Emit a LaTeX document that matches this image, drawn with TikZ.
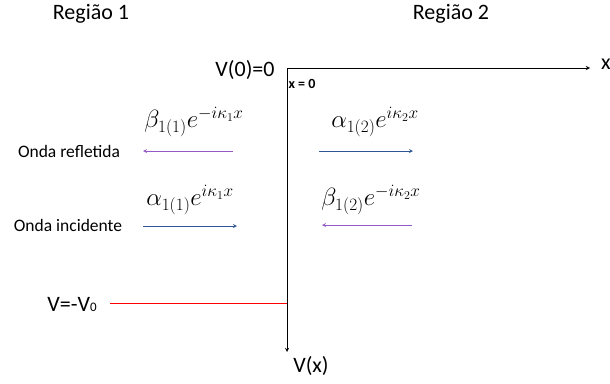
\documentclass[tikz,border=0pt]{standalone}
\usepackage{fontspec}
\setmainfont{Carlito}
\usetikzlibrary{positioning}
\definecolor{incid}{RGB}{47,85,151}
\definecolor{refl}{RGB}{150,90,200}
\tikzset{
  lbl/.style={inner sep=0pt, font=\fontsize{17.5}{20}\selectfont},
  big/.style={inner sep=0pt, font=\fontsize{22}{26}\selectfont},
  eq/.style={inner sep=0pt, font=\fontsize{26}{30}\selectfont},
  wave/.style={->, line width=0.8pt}
}
\begin{document}
\begin{tikzpicture}[x=1pt, y=-1pt, line join=round, >=stealth]
\useasboundingbox (0,0) rectangle (610,383);
% eixos
\coordinate (o) at (287,68);
\coordinate (xend) at (590,68);
\coordinate (yend) at (287,352);
\draw[->, line width=0.9pt] (o) -- (xend);
\draw[->, line width=0.9pt] (o) -- (yend);
\node[big, anchor=west] (xlab) at (601,64) {x};
\node[big] (vx) at (311,366) {V(x)};
\node[big] (v00) at (245,70) {V(0)=0};
\node[inner sep=0pt, font=\fontsize{14}{16}\selectfont\bfseries] (x0) at (302,84) {x = 0};
% regioes
\node[big] (r1) at (91,14) {Região 1};
\node[big] (r2) at (451,14) {Região 2};
% regiao 1
\node[eq] (b11) at (194,122) {$\beta_{1(1)}e^{-i\kappa_1 x}$};
\node[lbl] (refl1) at (69,151) {Onda refletida};
\coordinate (b11s) at (233,151);
\coordinate (b11e) at (143,151);
\draw[wave, refl] (b11s) -- (b11e);
\node[eq] (a11) at (190,200) {$\alpha_{1(1)}e^{i\kappa_1 x}$};
\node[lbl] (inc1) at (68,225) {Onda incidente};
\coordinate (a11s) at (143,226);
\coordinate (a11e) at (237,226);
\draw[wave, incid] (a11s) -- (a11e);
% regiao 2
\node[eq] (a12) at (375,122) {$\alpha_{1(2)}e^{i\kappa_2 x}$};
\coordinate (a12s) at (319,151);
\coordinate (a12e) at (413,151);
\draw[wave, incid] (a12s) -- (a12e);
\node[eq] (b12) at (371,200) {$\beta_{1(2)}e^{-i\kappa_2 x}$};
\coordinate (b12s) at (412,225);
\coordinate (b12e) at (322,225);
\draw[wave, refl] (b12s) -- (b12e);
% potencial
\node[big] (vv0) at (72,304) {V=-V{\fontsize{13}{13}\selectfont 0}};
\coordinate (v0a) at (110,303);
\coordinate (v0b) at (287,303);
\draw[red, line width=1pt] (v0a) -- (v0b);
\end{tikzpicture}
\end{document}
